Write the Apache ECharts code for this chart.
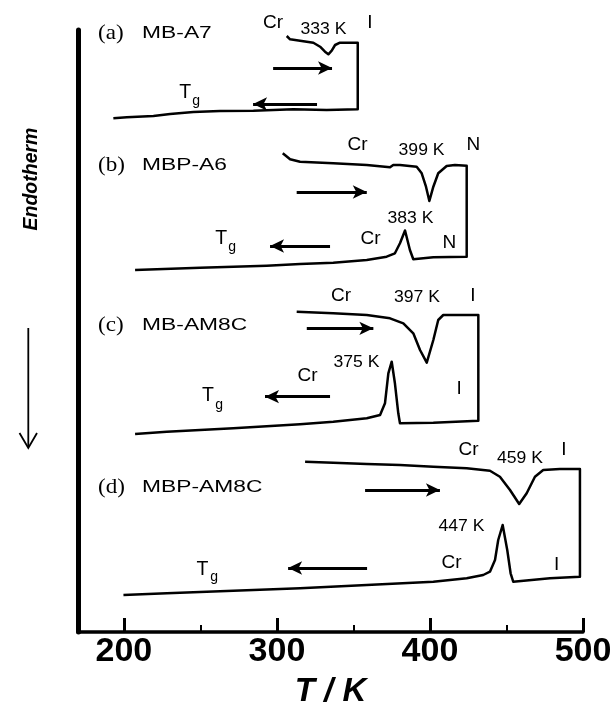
<!DOCTYPE html>
<html><head><meta charset="utf-8">
<script src="https://cdn.jsdelivr.net/npm/echarts@6/dist/echarts.min.js"></script>
<style>html,body{margin:0;padding:0;background:#fff}#c{width:613px;height:706px}</style>
</head><body><div id="c"></div>
<script>
// Tick values of the temperature axis (K)
const xTicks = [200, 300, 400, 500];
const xMinorTicks = [250, 350, 450];

// DSC traces: [T (K), heat flow (arbitrary units, stacked)]
// (a) MB-A7
const aHeat = [[306.4,596],[308.6,592.7],[315.1,591.3],[323.8,589.3],[328.2,585.3],[331.4,580.3],[333.6,577.7],[335.8,581.3],[338.0,587],[341.2,589.3],[352.8,589.3]];
const aCool = [[352.8,522.7],[332.5,522],[310.7,522.7],[284.6,521.3],[262.8,521],[245.4,520],[230.2,518],[219.3,516],[201.9,514.7],[193.1,513.7]];
// (b) MBP-A6
const bHeat = [[303.8,478.7],[308.6,472.7],[315.1,470.3],[336.8,468.7],[358.7,467],[373.9,464.7],[376.0,467],[380.4,467],[391.3,465.3],[394.6,458.7],[397.4,445.3],[399.6,431],[402.2,445.3],[405.4,458.7],[410.9,466],[416.3,467],[424.0,466.3]];
const bCool = [[424.0,375.3],[402.2,374.7],[389.1,372.7],[386.9,382],[383.7,401.5],[380.4,388.7],[377.1,378.7],[371.7,375.3],[358.7,372],[336.8,369.3],[315.1,368],[293.3,366.3],[249.8,364.3],[207.3,362]];
// (c) MB-AM8C
const cHeat = [[312.9,320.3],[336.8,318.7],[358.7,317],[373.9,313.7],[382.6,308.7],[389.1,298.7],[393.5,282],[397.9,269.3],[402.2,292],[405.4,312],[408.7,317],[431.6,317]];
const cCool = [[431.6,211.3],[402.2,209.3],[380.4,208.7],[379.3,218.7],[377.1,248.7],[375.0,270.3],[372.8,258.7],[370.6,228.7],[367.4,217],[358.7,213.7],[336.8,210.3],[315.1,207.7],[271.5,203.7],[228.0,200.3],[207.3,198]];
// (d) MBP-AM8C
const dHeat = [[318.4,170.3],[336.8,169.3],[358.7,168],[380.4,167],[402.2,165.3],[424.0,163.7],[439.2,161.3],[445.7,155.3],[452.3,142],[458.3,128],[463.2,138.7],[468.6,155.3],[474.0,162],[484.9,163],[498.0,163]];
const dCool = [[498.0,55.3],[478.4,53.7],[454.4,50.3],[452.7,58.7],[450.5,82],[447.5,107],[444.6,92],[442.5,72],[439.2,60.3],[434.8,57],[424.0,53.7],[402.2,50.3],[358.7,47],[315.1,43.7],[271.5,41.3],[228.0,38.7],[199.7,37]];

// Direction arrows: [from T, to T, level]
const arrows = [
  [297.5, 336.0, 564], [326.2, 284.4, 528],
  [312.9, 358.7, 440], [334.7, 295.5, 386],
  [319.5, 363.0, 303.7], [334.7, 292.2, 235.3],
  [357.6, 406.5, 142], [358.9, 307.3, 64]
];

// Annotation texts anchored in data coordinates
const labels = [
  {t:'(a)', at:[183.1,599], k:'panel'}, {t:'MB-A7', at:[211.9,599], k:'name'},
  {t:'Cr', at:[297.5,609], k:'phase'}, {t:'333 K', at:[330.4,602], k:'temp'}, {t:'I', at:[360.8,609], k:'phase'},
  {t:'T', at:[240.0,539], k:'T'}, {t:'g', at:[247.2,531], k:'g'},
  {t:'(b)', at:[183.1,467], k:'panel'}, {t:'MBP-A6', at:[211.9,467], k:'name'},
  {t:'Cr', at:[352.7,487], k:'phase'}, {t:'399 K', at:[394.5,481], k:'temp'}, {t:'N', at:[428.4,487], k:'phase'},
  {t:'383 K', at:[387.3,413], k:'temp'}, {t:'Cr', at:[361.1,393], k:'phase'}, {t:'N', at:[412.7,389], k:'phase'},
  {t:'T', at:[263.5,393], k:'T'}, {t:'g', at:[270.7,385], k:'g'},
  {t:'(c)', at:[183.1,307], k:'panel'}, {t:'MB-AM8C', at:[211.9,307], k:'name'},
  {t:'Cr', at:[341.9,336], k:'phase'}, {t:'397 K', at:[391.5,334], k:'temp'}, {t:'I', at:[428.1,336], k:'phase'},
  {t:'375 K', at:[352.0,269.5], k:'temp'}, {t:'Cr', at:[320.0,256.5], k:'phase'}, {t:'I', at:[419.0,243], k:'phase'},
  {t:'T', at:[255.0,236], k:'T'}, {t:'g', at:[262.2,227], k:'g'},
  {t:'(d)', at:[183.1,145], k:'panel'}, {t:'MBP-AM8C', at:[211.9,145], k:'name'},
  {t:'Cr', at:[425.2,182], k:'phase'}, {t:'459 K', at:[458.8,173], k:'temp'}, {t:'I', at:[487.5,182], k:'phase'},
  {t:'447 K', at:[420.6,105], k:'temp'}, {t:'Cr', at:[414.1,69.3], k:'phase'}, {t:'I', at:[482.8,67], k:'phase'},
  {t:'T', at:[251.4,62], k:'T'}, {t:'g', at:[258.9,55], k:'g'}
];

const SANS = 'Arial, "Liberation Sans", Helvetica, sans-serif';
const SERIF = '"Times New Roman", "Liberation Serif", Times, serif';
const kindStyle = {
  panel: {font: SERIF, size: 21, align: 'left', sx: 1.1},
  name:  {font: SANS, size: 17, align: 'left', sx: 1.34},
  phase: {font: SANS, size: 19, align: 'center', sx: 1},
  temp:  {font: SANS, size: 16, align: 'center', sx: 1.1},
  T:     {font: SANS, size: 19.5, align: 'center', sx: 1},
  g:     {font: SANS, size: 14, align: 'center', sx: 1}
};

const chart = echarts.init(document.getElementById('c'), null, {renderer: 'canvas'});

function curve(name, heat, cool) {
  return {
    type: 'line', name: name, data: heat.concat(cool),
    showSymbol: false, symbol: 'none', smooth: false,
    lineStyle: {color: '#000', width: 2.5, join: 'round'},
    silent: true, animation: false, z: 3
  };
}

const series = [
  curve('MB-A7', aHeat, aCool),
  curve('MBP-A6', bHeat, bCool),
  curve('MB-AM8C', cHeat, cCool),
  curve('MBP-AM8C', dHeat, dCool)
];
series[0].markLine = {
  silent: true, animation: false,
  symbol: ['none', 'arrow'], symbolSize: [10, 14],
  lineStyle: {color: '#000', width: 2.8, type: 'solid'},
  label: {show: false}, emphasis: {disabled: true},
  data: arrows.map(a => [{coord: [a[0], a[2]]}, {coord: [a[1], a[2]]}])
};

chart.setOption({
  animation: false,
  backgroundColor: '#fff',
  grid: {left: 78, right: 30, top: 30, bottom: 74, containLabel: false, outerBoundsMode: 'none'},
  xAxis: [{
    type: 'value', min: 170, max: 500, position: 'bottom',
    axisLine: {show: true, onZero: false, lineStyle: {color: '#000', width: 3.5}},
    axisTick: {show: true, inside: true, length: 14, customValues: xTicks, lineStyle: {color: '#000', width: 3}},
    axisLabel: {show: true, customValues: xTicks, margin: 3, color: '#000', fontFamily: SANS, fontWeight: 'bold', fontSize: 34},
    splitLine: {show: false},
    name: 'T / K', nameLocation: 'middle', nameGap: 43,
    nameTextStyle: {color: '#000', fontFamily: SANS, fontWeight: 'bold', fontStyle: 'italic', fontSize: 33}
  }, {
    type: 'value', min: 170, max: 500, position: 'bottom',
    axisLine: {show: false, onZero: false},
    axisTick: {show: true, inside: true, length: 7, customValues: xMinorTicks, lineStyle: {color: '#000', width: 2}},
    axisLabel: {show: false}, splitLine: {show: false}
  }],
  yAxis: {
    type: 'value', min: 0, max: 602,
    axisLine: {show: true, onZero: false, lineStyle: {color: '#000', width: 5}},
    axisTick: {show: false}, axisLabel: {show: false}, splitLine: {show: false}
  },
  series: series
});

const gfx = labels.map(l => {
  const s = kindStyle[l.k];
  const p = chart.convertToPixel({gridIndex: 0}, l.at);
  return {
    type: 'text', x: p[0], y: p[1], scaleX: s.sx, silent: true,
    style: {text: l.t, fill: '#000', fontFamily: s.font, fontSize: s.size, align: s.align, verticalAlign: 'middle'}
  };
});
gfx.push({
  type: 'text', x: 31.5, y: 179, rotation: Math.PI / 2, silent: true,
  style: {text: 'Endotherm', fill: '#000', fontFamily: SANS, fontWeight: 'bold', fontStyle: 'italic', fontSize: 19.5, align: 'center', verticalAlign: 'middle'}
});
gfx.push({type: 'line', silent: true, shape: {x1: 28.3, y1: 328, x2: 28.3, y2: 447}, style: {stroke: '#000', lineWidth: 1.8}});
gfx.push({type: 'polyline', silent: true, shape: {points: [[19.5, 433], [28.3, 448], [37, 433]]}, style: {stroke: '#000', lineWidth: 1.8, fill: null}});
chart.setOption({graphic: gfx});
</script>
</body></html>
